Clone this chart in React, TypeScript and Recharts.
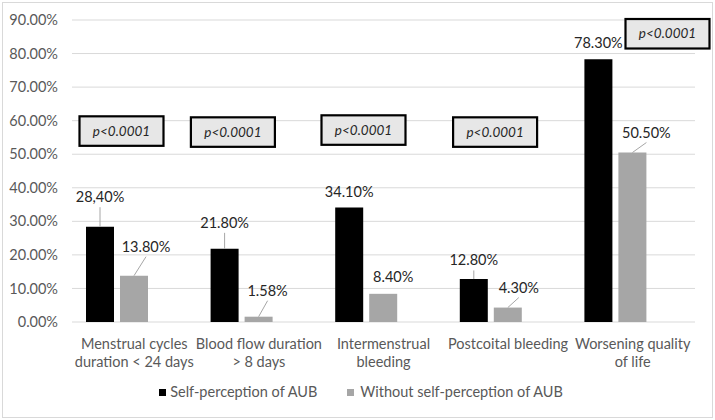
import React from "react"
import {
  BarChart,
  Bar,
  XAxis,
  YAxis,
  CartesianGrid,
  LabelList,
  ReferenceDot,
} from "recharts"

const CATEGORIES = ["menstrual", "bloodflow", "intermenstrual", "postcoital", "quality"]
const CATEGORY_LINES = [
  ["Menstrual cycles", "duration < 24 days"],
  ["Blood flow duration", "> 8 days"],
  ["Intermenstrual", "bleeding"],
  ["Postcoital bleeding"],
  ["Worsening quality", "of life"],
]
const SELF_PERCEPTION = [28.4, 21.8, 34.1, 12.8, 78.3]
const WITHOUT_PERCEPTION = [13.8, 1.58, 8.4, 4.3, 50.5]
const SELF_LABELS = ["28,40%", "21.80%", "34.10%", "12.80%", "78.30%"]
const WITHOUT_LABELS = ["13.80%", "1.58%", "8.40%", "4.30%", "50.50%"]
const P_VALUES = ["p<0.0001", "p<0.0001", "p<0.0001", "p<0.0001", "p<0.0001"]
const Y_TICKS = [0, 10, 20, 30, 40, 50, 60, 70, 80, 90]

// where the hand-placed annotations sit (label offsets in px, box anchor in axis units)
const SELF_LABEL_POS = [
  { dx: 0, dy: -29.5, leader: true },
  { dx: 0, dy: -26, leader: true },
  { dx: 0, dy: -15.6, leader: false },
  { dx: 0, dy: -18.6, leader: true },
  { dx: 0, dy: -16, leader: false },
]
const WITHOUT_LABEL_POS = [
  { dx: 12, dy: -29, leader: true },
  { dx: 9, dy: -26, leader: true },
  { dx: 10, dy: -16.6, leader: false },
  { dx: 11, dy: -20, leader: true },
  { dx: 14, dy: -20, leader: true },
]
const P_BOX_Y = [56.9, 56.6, 57.2, 56.6, 85.9]
const P_BOX_DX = [-12.8, -26, -20, -13, 34.8]

const FONT = "Lato, 'Open Sans', sans-serif"
const FS = 14.5

const data = CATEGORIES.map((cat, i) => ({
  cat,
  self: SELF_PERCEPTION[i],
  without: WITHOUT_PERCEPTION[i],
  spacer: 0,
}))

function makeLabel(labels: string[], pos: { dx: number; dy: number; leader: boolean }[]) {
  return (props: any) => {
    const { x, y, width, index } = props
    const cx = Number(x) + Number(width) / 2
    const top = Number(y)
    const p = pos[index]
    const lx = cx + p.dx
    const ly = top + p.dy
    return (
      <g>
        {p.leader && (
          <line x1={cx} y1={top} x2={lx} y2={ly + 10} stroke="#a6a6a6" strokeWidth={1} />
        )}
        <text
          x={lx}
          y={ly}
          dy={5}
          textAnchor="middle"
          fontFamily={FONT}
          fontSize={FS}
          fill="#262626"
        >
          {labels[index]}
        </text>
      </g>
    )
  }
}

function CategoryTick(props: any) {
  const { x, y, payload } = props
  const idx = CATEGORIES.indexOf(payload.value)
  const lines = CATEGORY_LINES[idx] || []
  return (
    <g>
      {lines.map((line, i) => (
        <text
          key={i}
          x={x}
          y={y + 24.5 + i * 18.5}
          textAnchor="middle"
          fontFamily={FONT}
          fontSize={FS}
          fill="#595959"
        >
          {line}
        </text>
      ))}
    </g>
  )
}

function PBox(i: number) {
  return (props: any) => {
    const { cx, cy } = props
    const w = 84
    const h = 29.5
    const bx = cx + P_BOX_DX[i]
    return (
      <g>
        <rect
          x={bx - w / 2}
          y={cy - h / 2}
          width={w}
          height={h}
          fill="#e7e7e7"
          stroke="#000"
          strokeWidth={2.2}
        />
        <text
          x={bx}
          y={cy}
          dy={4.5}
          textAnchor="middle"
          fontFamily={FONT}
          fontStyle="italic"
          fontSize={13.5}
          fill="#262626"
        >
          {P_VALUES[i]}
        </text>
      </g>
    )
  }
}

export default function App() {
  return (
    <div style={{ position: "absolute", left: 0, top: 0, width: 715, height: 420, background: "#fff" }}>
      <div
        style={{
          position: "absolute",
          left: 2,
          top: 2,
          width: 711,
          height: 416,
          border: "1px solid #d9d9d9",
          boxSizing: "border-box",
        }}
      />
      <BarChart
        width={715}
        height={420}
        data={data}
        margin={{ top: 20, right: 20, bottom: 0, left: 0 }}
        barSize={28}
        barGap={6}
        style={{ position: "absolute", left: 0, top: 0 }}
      >
        <CartesianGrid vertical={false} stroke="#d9d9d9" strokeWidth={1} />
        <XAxis
          dataKey="cat"
          height={98}
          tickLine={false}
          axisLine={false}
          tickSize={0}
          interval={0}
          tick={<CategoryTick />}
        />
        <YAxis
          width={72}
          domain={[0, 90]}
          ticks={Y_TICKS}
          tickFormatter={(v: number) => v.toFixed(2) + "%"}
          tickLine={false}
          axisLine={false}
          tickSize={0}
          tickMargin={14}
          tick={{ fontFamily: FONT, fontSize: FS, fill: "#595959" }}
        />
        <Bar dataKey="self" fill="#000000" isAnimationActive={false}>
          <LabelList dataKey="self" content={makeLabel(SELF_LABELS, SELF_LABEL_POS)} />
        </Bar>
        <Bar dataKey="without" fill="#a6a6a6" isAnimationActive={false}>
          <LabelList dataKey="without" content={makeLabel(WITHOUT_LABELS, WITHOUT_LABEL_POS)} />
        </Bar>
        <Bar dataKey="spacer" fill="transparent" legendType="none" isAnimationActive={false} />
        {CATEGORIES.map((cat, i) => (
          <ReferenceDot key={cat} x={cat} y={P_BOX_Y[i]} r={0} shape={PBox(i)} />
        ))}
      </BarChart>
      <div
        style={{
          position: "absolute",
          left: 0,
          top: 382,
          width: 722,
          display: "flex",
          justifyContent: "center",
          gap: 30,
          fontFamily: FONT,
          fontSize: FS,
          color: "#595959",
          lineHeight: "20px",
        }}
      >
        <div style={{ display: "flex", alignItems: "center" }}>
          <span style={{ width: 7, height: 7, background: "#000", marginRight: 4 }} />
          Self-perception of AUB
        </div>
        <div style={{ display: "flex", alignItems: "center" }}>
          <span style={{ width: 7, height: 7, background: "#a6a6a6", marginRight: 6 }} />
          Without self-perception of AUB
        </div>
      </div>
    </div>
  )
}
